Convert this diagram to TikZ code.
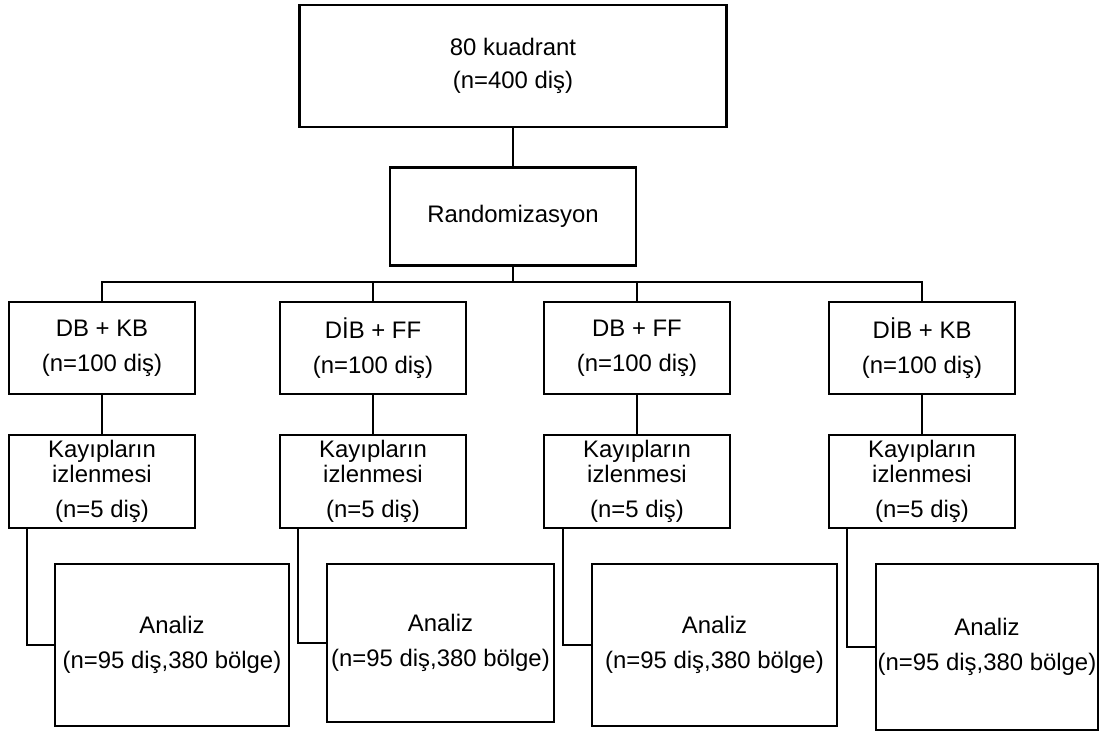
\documentclass[tikz,border=0pt]{standalone}
\usepackage{fontspec}
\setmainfont{Liberation Sans}
\usetikzlibrary{positioning}

\begin{document}
\begin{tikzpicture}[
  x=1pt, y=-1pt,
  node distance=38pt and 20pt,
  font=\fontsize{23.9}{35}\selectfont,
  box/.style={draw, line width=2.3pt, align=center, inner sep=0pt,
              minimum width=186pt, minimum height=92pt},
  topbox/.style={box, line width=2.7pt, minimum width=427pt, minimum height=122pt},
  randbox/.style={box, minimum width=246pt, minimum height=98pt},
  endbox/.style={box, minimum height=162pt},
  link/.style={line width=2.3pt},
  thinlink/.style={line width=1.5pt}
]
\useasboundingbox (0,0) rectangle (1102,731);

\node[topbox] (kuad) at (513,66) {80 kuadrant\\[-2pt](n=400 diş)};
\node[randbox, below=38pt of kuad] (rand) {Randomizasyon};
\coordinate (bus) at (513,282);

\node[box] (g1) at (102,348) {DB + KB\\(n=100 diş)};
\node[box] (g2) at (373,348) {DİB + FF\\(n=100 diş)};
\node[box] (g3) at (637,348) {DB + FF\\(n=100 diş)};
\node[box] (g4) at (922,348) {DİB + KB\\(n=100 diş)};

\node[box, minimum height=93pt, below=39pt of g1] (k1) {Kayıpların\\[-10pt]izlenmesi\\(n=5 diş)};
\node[box, minimum height=93pt, below=39pt of g2] (k2) {Kayıpların\\[-10pt]izlenmesi\\(n=5 diş)};
\node[box, minimum height=93pt, below=39pt of g3] (k3) {Kayıpların\\[-10pt]izlenmesi\\(n=5 diş)};
\node[box, minimum height=93pt, below=39pt of g4] (k4) {Kayıpların\\[-10pt]izlenmesi\\(n=5 diş)};

\node[endbox, minimum width=234pt] (a1) at (172,645) {Analiz\\(n=95 diş,380 bölge)};
\node[endbox, minimum width=227pt, minimum height=158pt] (a2) at (440.5,643) {Analiz\\(n=95 diş,380 bölge)};
\node[endbox, minimum width=245pt] (a3) at (714.5,645) {Analiz\\(n=95 diş,380 bölge)};
\node[endbox, minimum width=222pt, minimum height=166pt] (a4) at (987,647) {Analiz\\(n=95 diş,380 bölge)};

\draw[thinlink] (kuad) -- (rand);
\draw[link] (rand) -- (bus);
\draw[link] (g1.north) |- (bus) -| (g4.north);
\draw[link] (g2.north) -- (g2.north |- bus);
\draw[link] (g3.north) -- (g3.north |- bus);

\draw[link] (g1) -- (k1);
\draw[link] (g2) -- (k2);
\draw[link] (g3) -- (k3);
\draw[link] (g4) -- (k4);

\draw[link] ([xshift=19pt]k1.south west) |- (a1.west);
\draw[link] ([xshift=19pt]k2.south west) |- (a2.west);
\draw[link] ([xshift=20pt]k3.south west) |- (a3.west);
\draw[link] ([xshift=19pt]k4.south west) |- (a4.west);
\end{tikzpicture}
\end{document}
